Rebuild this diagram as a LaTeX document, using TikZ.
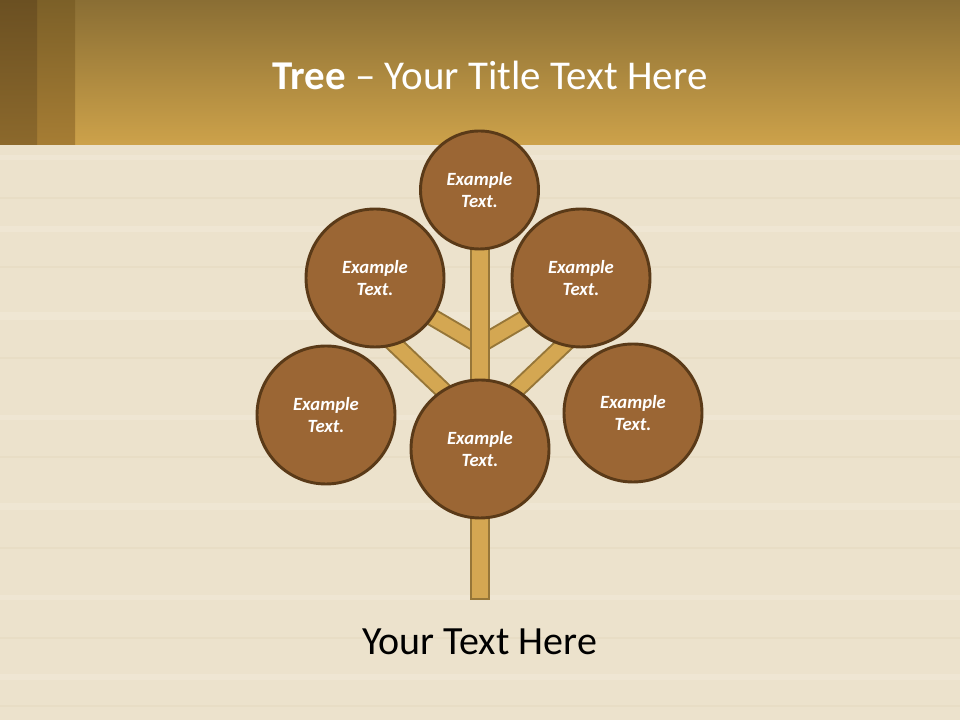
\documentclass[tikz,border=0pt]{standalone}
\usepackage{fontspec}
\setmainfont{Carlito}
\usetikzlibrary{positioning}

\definecolor{woodbg}{RGB}{236,226,204}
\definecolor{woodlight}{RGB}{244,237,222}
\definecolor{wooddark}{RGB}{226,214,188}
\definecolor{headtop}{RGB}{138,110,52}
\definecolor{headbot}{RGB}{205,162,74}
\definecolor{stripAtop}{RGB}{107,80,34}
\definecolor{stripAbot}{RGB}{140,105,44}
\definecolor{stripBtop}{RGB}{124,96,40}
\definecolor{stripBbot}{RGB}{166,125,52}
\definecolor{leaffill}{RGB}{155,102,52}
\definecolor{leafline}{RGB}{90,58,24}
\definecolor{barfill}{RGB}{212,167,82}
\definecolor{barline}{RGB}{150,118,56}

\begin{document}
\begin{tikzpicture}[
x=0.75pt, y=0.75pt,
leaf/.style={circle, draw=leafline, fill=leaffill, line width=2.2pt,
  text=white, align=center, inner sep=0pt,
  font=\fontsize{14}{17}\selectfont\bfseries\itshape},
bigleaf/.style={leaf, minimum size=103.5pt},
smallleaf/.style={leaf, minimum size=88.5pt},
barout/.style={draw=barline, line width=15pt, line cap=butt},
barin/.style={draw=barfill, line width=12pt, line cap=butt},
branchout/.style={draw=barline, line width=13.5pt, line cap=butt},
branchin/.style={draw=barfill, line width=10.5pt, line cap=butt}
]

\useasboundingbox (0,0) rectangle (960,720);

\fill[woodbg] (0,0) rectangle (960,575);
\foreach \y/\h/\c in {560/5/woodlight, 521/2/wooddark, 488/6/woodlight,
  452/2/wooddark, 400/8/woodlight, 361/2/wooddark, 300/5/woodlight,
  262/2/wooddark, 210/7/woodlight, 171/2/wooddark, 120/5/woodlight,
  81/2/wooddark, 40/6/woodlight, 13/2/wooddark}
  \fill[\c, opacity=0.4] (0,\y) rectangle (960,\y+\h);

\shade[top color=headtop, bottom color=headbot] (0,575) rectangle (960,720);
\shade[top color=stripBtop, bottom color=stripBbot] (37,575) rectangle (75,720);
\shade[top color=stripAtop, bottom color=stripAbot] (0,575) rectangle (37,720);

\node[text=white, font=\fontsize{30.7}{36}\selectfont] (title) at (490,645)
{\textbf{Tree} -- Your Title Text Here};

\coordinate (crownc) at (479.5,530);
\coordinate (root) at (479.5,120);
\coordinate (upjoint) at (479.5,375);
\coordinate (lowjoint) at (479.5,295);
\coordinate (ulend) at (425,407);
\coordinate (urend) at (534,407);
\coordinate (llend) at (388,382);
\coordinate (lrend) at (571,382);

\draw[branchout] (upjoint) -- (ulend);
\draw[branchout] (upjoint) -- (urend);
\draw[branchout] (lowjoint) -- (llend);
\draw[branchout] (lowjoint) -- (lrend);
\draw[branchin] (upjoint) -- (ulend);
\draw[branchin] (upjoint) -- (urend);
\draw[branchin] (lowjoint) -- (llend);
\draw[branchin] (lowjoint) -- (lrend);
\draw[barout] (crownc) -- (root);
\draw[barin, shorten >=1.5pt] (crownc) -- (root);

\node[smallleaf] (crown) at (crownc) {Example\\Text.};
\node[bigleaf] (upleft) at (375,442) {Example\\Text.};
\node[bigleaf] (upright) at (581,442) {Example\\Text.};
\node[bigleaf] (lowleft) at (326,305) {Example\\Text.};
\node[bigleaf] (lowright) at (633,307) {Example\\Text.};
\node[bigleaf] (stem) at (480,271) {Example\\Text.};

\node[font=\fontsize{30}{36}\selectfont, below=18pt of root] (caption)
{Your Text Here};

\end{tikzpicture}
\end{document}
